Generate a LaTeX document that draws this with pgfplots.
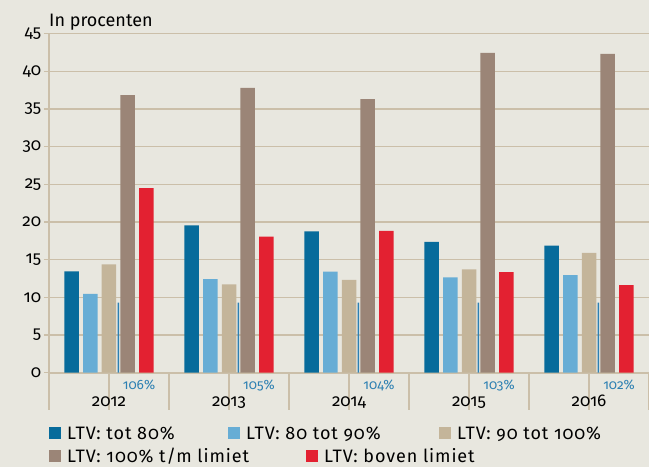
\documentclass[border=0pt]{standalone}
\usepackage{pgfplots}
\pgfplotsset{compat=1.18}
\usepackage{fontspec}
\setmainfont{Fira Sans}[Numbers=OldStyle]
\newfontfamily\legfont{Fira Sans}[Numbers=OldStyle, LetterSpace=5]
\usetikzlibrary{backgrounds,calc}

\definecolor{bgc}{HTML}{E8E7DF}
\definecolor{gridc}{HTML}{CBBFA9}
\definecolor{ltvA}{HTML}{076B9B}
\definecolor{ltvB}{HTML}{67ADD5}
\definecolor{ltvC}{HTML}{C4B59A}
\definecolor{ltvD}{HTML}{9B8577}
\definecolor{ltvE}{HTML}{E32131}
\definecolor{limc}{HTML}{2D80B2}

\pgfplotsset{
  sq legend/.style={
    legend image code/.code={
      \fill[##1] (0pt,-6pt) rectangle (12pt,6pt);
      \path (18pt,0pt);
    },
  },
}

\begin{document}
\begin{tikzpicture}[font=\fontsize{18}{21}\selectfont]
\begin{axis}[
    name=main,
    width=600pt, height=339pt, scale only axis,
    xmin=-0.5, xmax=4.5, ymin=0, ymax=45,
    clip=false,
    ybar, bar width=14.5pt,
    axis lines*=left,
    axis line style={-, draw=gridc, line width=1.8pt},
    ymajorgrids, grid style={draw=gridc, line width=1.3pt},
    ytick={0,5,...,45},
    tick align=outside,
    ytick style={draw=gridc, line width=1.3pt, /pgfplots/major tick length=5pt},
    xtick={-0.5,0.5,1.5,2.5,3.5,4.5},
    xticklabels={},
    xtick style={draw=gridc, line width=1.3pt, /pgfplots/major tick length=37pt},
    extra x ticks={0,1,2,3,4},
    extra x tick labels={2012,2013,2014,2015,2016},
    extra x tick style={major tick length=0pt, tick style={draw=none},
      xticklabel style={anchor=base, yshift=-34pt}},
    /pgf/number format/assume math mode=true,
    yticklabel style={font=\fontsize{17}{20}\selectfont},
    xticklabel style={font=\fontsize{17}{20}\selectfont},
    sq legend,
    legend columns=-1,
    legend style={at={(rel axis cs:0,-0.1796)}, anchor=west,
      draw=none, fill=none, inner sep=0pt, nodes={inner sep=0pt},
      font=\fontsize{18}{21}\legfont},
]
\addplot[fill=ltvA, draw=none, bar shift=-37.4pt] coordinates {(0,13.45) (1,19.55) (2,18.75) (3,17.35) (4,16.85)};
\addplot[fill=ltvB, draw=none, bar shift=-18.7pt] coordinates {(0,10.45) (1,12.4) (2,13.4) (3,12.65) (4,12.95)};
\addplot[fill=ltvC, draw=none, bar shift=0pt] coordinates {(0,14.35) (1,11.7) (2,12.3) (3,13.7) (4,15.9)};
\addplot[fill=ltvD, draw=none, bar shift=18.7pt] coordinates {(0,36.85) (1,37.8) (2,36.3) (3,42.45) (4,42.3)};
\addplot[fill=ltvE, draw=none, bar shift=37.4pt] coordinates {(0,24.5) (1,18.05) (2,18.8) (3,13.35) (4,11.6)};
% limiet markers
\addplot[fill=limc, draw=none, bar width=1.4pt, bar shift=9.35pt] coordinates {(0,9.3) (1,9.3) (2,9.3) (3,9.3) (4,9.3)};
\addplot[draw=none, fill=none, bar width=0pt, bar shift=30pt,
    nodes near coords, point meta=explicit symbolic,
    every node near coord/.append style={anchor=center, text=limc,
      font=\fontsize{13.5}{16}\selectfont}]
  coordinates {(0,-1.65)[106\%] (1,-1.65)[105\%] (2,-1.65)[104\%] (3,-1.65)[103\%] (4,-1.65)[102\%]};
\legend{\makebox[161pt][l]{LTV: tot 80\%},\makebox[193pt][l]{LTV: 80 tot 90\%},LTV: 90 tot 100\%}
\node[anchor=base west, inner sep=0pt] at (rel axis cs:0,1.0224) {In procenten};
\end{axis}
\begin{axis}[
    width=600pt, height=339pt, scale only axis,
    hide axis, xmin=0, xmax=1, ymin=0, ymax=1,
    sq legend,
    legend columns=-1,
    legend style={at={(rel axis cs:0,-0.246)}, anchor=west,
      draw=none, fill=none, inner sep=0pt, nodes={inner sep=0pt},
      font=\fontsize{18}{21}\legfont},
]
\addlegendimage{fill=ltvD, draw=none}
\addlegendentry{\makebox[239pt][l]{LTV: 100\% t/m limiet}}
\addlegendimage{fill=ltvE, draw=none}
\addlegendentry{LTV: boven limiet}
\end{axis}
\pgfresetboundingbox
\begin{scope}[on background layer]
\fill[bgc] ($(main.south west)+(-49pt,-94.4pt)$) rectangle ($(main.south west)+(600pt,372.6pt)$);
\end{scope}
\path[use as bounding box] ($(main.south west)+(-49pt,-94.4pt)$) rectangle ($(main.south west)+(600pt,372.6pt)$);
\end{tikzpicture}
\end{document}
